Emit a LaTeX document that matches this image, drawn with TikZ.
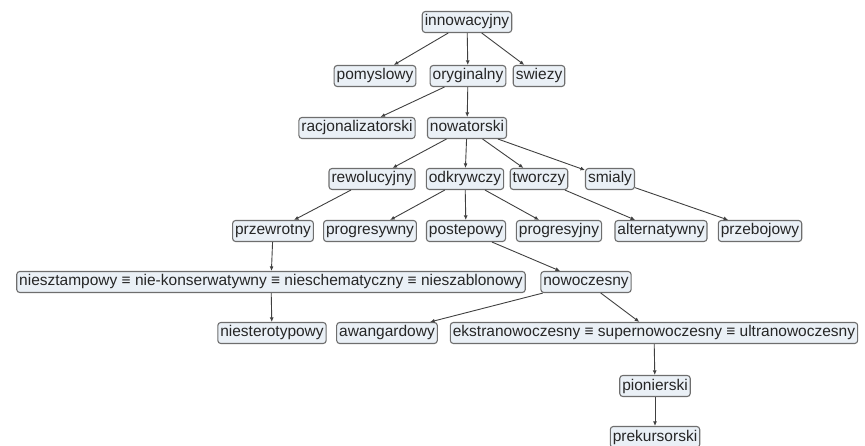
\documentclass[tikz,border=0pt]{standalone}
\usepackage{fontspec}
\setmainfont{Liberation Sans}
\usepackage{tikz}
\usetikzlibrary{arrows.meta}
\definecolor{boxfill}{HTML}{EAF0F6}
\definecolor{boxline}{HTML}{6E6E6E}
\definecolor{edgecol}{HTML}{404040}

\begin{document}
\begin{tikzpicture}[x=1pt,y=-1pt,
	every node/.style={draw=boxline,fill=boxfill,line width=1.1pt,rounded corners=3pt,
		font=\fontsize{15.5}{16}\selectfont,text=black!85,inner xsep=2.5pt,inner ysep=3pt,
		text height=11.5pt,text depth=3.5pt},
	link/.style={edgecol,line width=0.9pt,-{Latex[length=4.5pt,width=4pt]}}]
    \useasboundingbox (0,0) rectangle (865,446);
    % level 1-3
    \node (inn) at (467,22) {innowacyjny};
    \node (pom) at (375,76) {pomyslowy};
    \node (ory) at (468,76) {oryginalny};
    \node (swi) at (539,76) {swiezy};
    \node (rac) at (357,128) {racjonalizatorski};
    \node (now) at (467,128) {nowatorski};
    % level 4-5
    \node (rew) at (372,179) {rewolucyjny};
    \node (odk) at (465,179) {odkrywczy};
    \node (two) at (539,179) {tworczy};
    \node (smi) at (610,179) {smialy};
    \node (prz) at (273,231) {przewrotny};
    \node (prs) at (370,231) {progresywny};
    \node (pos) at (466,231) {postepowy};
    \node (prj) at (559,231) {progresyjny};
    \node (alt) at (661,231) {alternatywny};
    \node (prb) at (760,231) {przebojowy};
    % level 6-9
    \node (nsz) at (271,282) {niesztampowy ≡ nie-konserwatywny ≡ nieschematyczny ≡ nieszablonowy};
    \node (nwc) at (586,282) {nowoczesny};
    \node (nst) at (272,333) {niesterotypowy};
    \node (awa) at (387,333) {awangardowy};
    \node (eks) at (654,333) {ekstranowoczesny ≡ supernowoczesny ≡ ultranowoczesny};
    \node (pio) at (655,386) {pionierski};
    \node (pre) at (655,437) {prekursorski};

    \foreach \a/\b in {inn/pom,inn/ory,inn/swi,ory/rac,ory/now,now/rew,now/odk,now/two,now/smi,
    	rew/prz,odk/prs,odk/pos,odk/prj,two/alt,smi/prb,prz/nsz,pos/nwc,nsz/nst,nwc/awa,nwc/eks,
    	eks/pio,pio/pre}
    	\draw[link] (\a) -- (\b);
\end{tikzpicture}
\end{document}
